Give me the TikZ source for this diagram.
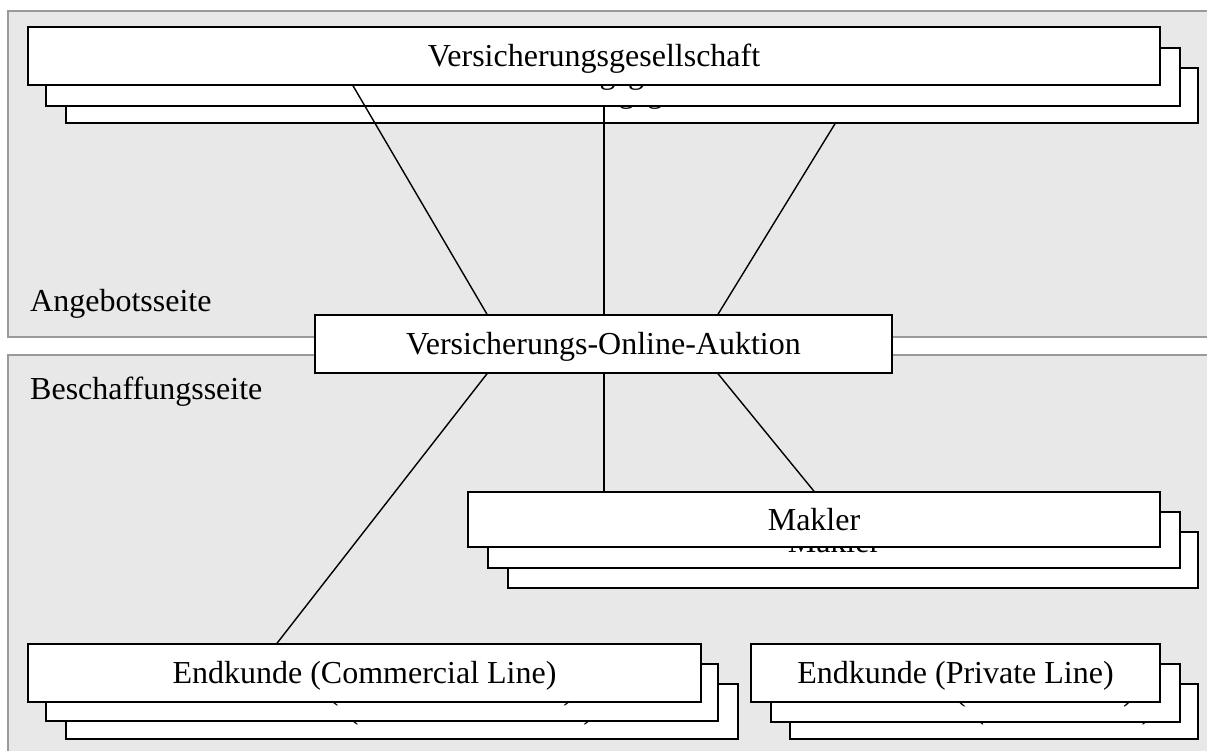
\documentclass[tikz,border=0pt]{standalone}
\usepackage{fontspec}
\setmainfont{Liberation Serif}
\definecolor{panelfill}{HTML}{E8E8E8}
\definecolor{panelline}{HTML}{9A9A9A}
% one card of a stack: style, name, left, top, right, bottom, text
\newcommand\cardat[7]{%
  \node[#1, minimum width={#5-#3}, minimum height={#6-#4}]
    (#2) at ({(#3+#5)/2},{(#4+#6)/2}) {#7};}
\begin{document}
\begin{tikzpicture}[x=1pt,y=-1pt,
  panel/.style={draw=panelline, fill=panelfill, line width=1.2},
  card/.style={draw=black, fill=white, line width=1.5, inner sep=0pt,
    font=\fontsize{32}{38}\selectfont, text height=21pt, text depth=0pt},
  backcard/.style={card, text height=14pt},
  midcard/.style={card, text height=24pt},
  link/.style={draw=black, line width=1.4},
  side/.style={anchor=base west, inner sep=0pt, font=\fontsize{32}{38}\selectfont}]
\useasboundingbox (0,0) rectangle (1207,751);
\clip (0,0) rectangle (1207,751);

% the two sides
\draw[panel] (8,11) rectangle (1230,337);
\draw[panel] (8,355) rectangle (1230,780);
\node[side] (angebot) at (30,312) {Angebotsseite};
\node[side] (beschaffung) at (30,399) {Beschaffungsseite};

% insurers (stack of three)
\cardat{backcard}{gesC}{66}{68}{1198}{123}{Versicherungsgesellschaft}
\cardat{backcard}{gesB}{46}{48}{1180}{106}{Versicherungsgesellschaft}
\cardat{card}{gesA}{28}{27}{1160}{85}{Versicherungsgesellschaft}

% auction platform
\cardat{card}{auk}{315}{315}{892}{373}{Versicherungs-Online-Auktion}

% brokers
\cardat{backcard}{makC}{508}{532}{1198}{588}{Makler}
\cardat{midcard}{makB}{488}{512}{1180}{568}{Makler}
\cardat{card}{makA}{468}{492}{1160}{547}{Makler}

% end customers
\cardat{backcard}{comC}{66}{684}{738}{739}{Endkunde (Commercial Line)}
\cardat{backcard}{comB}{46}{664}{718}{721}{Endkunde (Commercial Line)}
\cardat{card}{comA}{28}{644}{701}{702}{Endkunde (Commercial Line)}

\cardat{backcard}{priC}{790}{684}{1198}{739}{Endkunde (Private Line)}
\cardat{backcard}{priB}{771}{664}{1180}{722}{Endkunde (Private Line)}
\cardat{card}{priA}{751}{644}{1160}{702}{Endkunde (Private Line)}

% connections
\draw[link] (auk.north -| 487,0) -- (gesA.south -| 353,0);
\draw[link] (auk.north -| 604,0) -- (gesB.south -| 604,0);
\draw[link] (auk.north -| 718,0) -- (gesC.south -| 835,0);
\draw[link] (auk.south -| 487,0) -- (comA.north -| 277,0);
\draw[link] (auk.south -| 604,0) -- (makA.north -| 604,0);
\draw[link] (auk.south -| 718,0) -- (makA.north);
\end{tikzpicture}
\end{document}
